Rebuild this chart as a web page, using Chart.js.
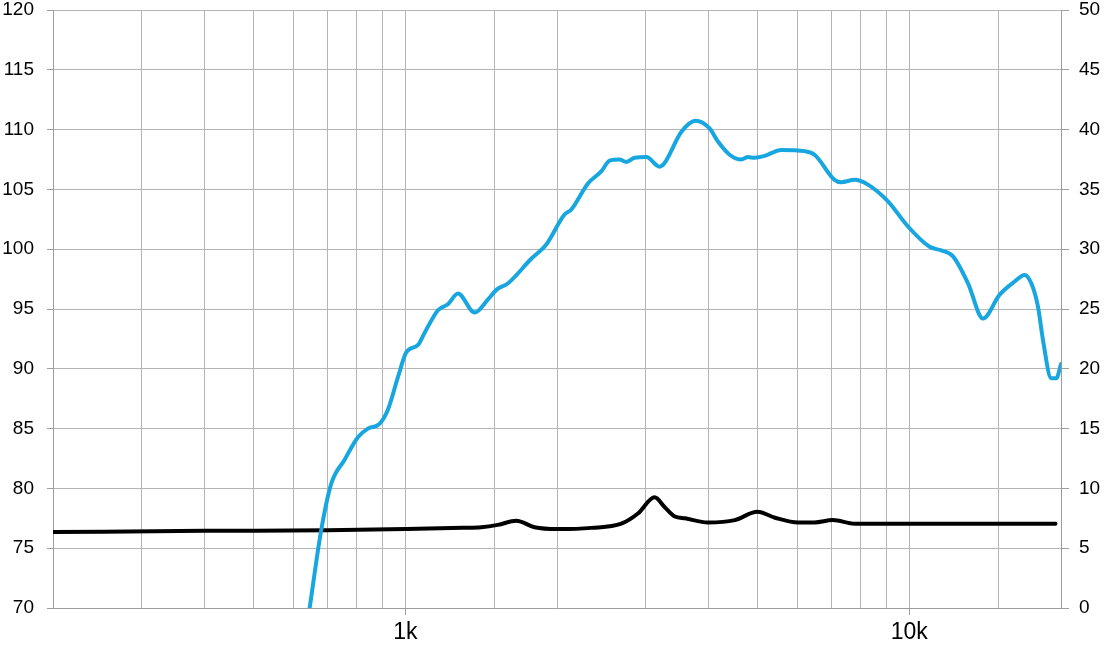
<!DOCTYPE html>
<html>
<head>
<meta charset="utf-8">
<script src="https://cdn.jsdelivr.net/npm/chart.js@4/dist/chart.umd.min.js"></script>
<style>
  html, body { margin: 0; padding: 0; background: #fff; }
  #wrap { width: 1111px; height: 645px; }
</style>
</head>
<body>
<div id="wrap"><canvas id="fr" width="1111" height="645"></canvas></div>
<script>
// SPL curve (left axis, dB)
const splFreq = [646, 681, 713, 758, 806, 843, 889, 924, 967, 1005, 1060, 1092, 1161, 1215, 1272, 1373, 1459, 1516, 1599, 1778, 1905,
  2070, 2133, 2304, 2448, 2543, 2662, 2745, 2851, 3007, 3196, 3269, 3528, 3767, 4017, 4173, 4401, 4642, 4786, 4932, 5164,
  5572, 6198, 6488, 7109, 7328, 7790, 8279, 9072, 9940, 10973, 11574, 12210, 13077, 14006, 15112, 16180, 16935, 17462,
  18003, 18420, 19130, 19574, 20000]
const splValue = [70, 76.5, 80.4, 82.4, 84.3, 85.0, 85.4, 86.6, 89.3, 91.4, 92.0, 93.0, 94.9, 95.4, 96.3, 94.7, 95.8, 96.6, 97.15, 99.2, 100.4,
  102.9, 103.3, 105.5, 106.5, 107.4, 107.5, 107.3, 107.65, 107.7, 106.9, 107.2, 109.8, 110.75, 110.1, 109.0, 107.9, 107.5, 107.7, 107.65, 107.8,
  108.3, 108.2, 107.9, 105.8, 105.6, 105.8, 105.4, 104.0, 101.9, 100.2, 99.9, 99.4, 97.15, 94.2, 96.2, 97.3, 97.85, 97.15,
  95.2, 92.4, 89.2, 89.2, 90.4]

// impedance curve (right axis, ohm)
const impFreq = [200, 400, 700, 1000, 1300, 1415, 1527, 1661, 1805, 2009, 2339, 2683, 2895, 3124, 3269, 3427, 3590, 3984,
  4508, 4994, 5415, 6019, 6488, 7053, 7790, 8838, 12000, 19500]
const impValue = [6.35, 6.45, 6.5, 6.6, 6.7, 6.75, 6.95, 7.3, 6.75, 6.6, 6.7, 7.05, 7.9, 9.25, 8.45, 7.65, 7.5, 7.15,
  7.35, 8.05, 7.55, 7.15, 7.15, 7.35, 7.05, 7.05, 7.05, 7.05]

const xLabels = { 1000: "1k", 10000: "10k" }

const gridColor = "#b5b5b5"
const axisColor = "#9d9d9d"

const toPoints = (xs, ys) => xs.map((x, i) => ({ x: x, y: ys[i] }))

new Chart(document.getElementById("fr"), {
  type: "line",
  data: {
    datasets: [
      {
        label: "SPL",
        data: toPoints(splFreq, splValue),
        yAxisID: "y",
        borderColor: "#17a6e0",
        borderWidth: 4,
        pointRadius: 0,
        cubicInterpolationMode: "monotone",
        borderCapStyle: "round",
        borderJoinStyle: "round",
      },
      {
        label: "Impedance",
        data: toPoints(impFreq, impValue),
        yAxisID: "y2",
        borderColor: "#000000",
        borderWidth: 4,
        pointRadius: 0,
        cubicInterpolationMode: "monotone",
        borderCapStyle: "round",
        borderJoinStyle: "round",
      },
    ],
  },
  options: {
    responsive: false,
    devicePixelRatio: 1,
    animation: false,
    layout: { padding: { top: 10, left: 0, right: 0, bottom: 0 } },
    plugins: { legend: { display: false }, tooltip: { enabled: false } },
    scales: {
      x: {
        type: "logarithmic",
        min: 200,
        max: 20000,
        border: { color: axisColor, width: 1 },
        grid: {
          color: gridColor,
          tickLength: 7,
          tickColor: (ctx) => (ctx.tick && xLabels[ctx.tick.value] ? axisColor : "rgba(0,0,0,0)"),
        },
        ticks: {
          autoSkip: false,
          maxRotation: 0,
          padding: 4,
          color: "#000",
          font: { family: "Liberation Sans", size: 23 },
          callback: (v) => xLabels[v] || "",
        },
        afterFit: (s) => { s.height = 37; s.paddingLeft = 0; s.paddingRight = 0 },
      },
      y: {
        position: "left",
        min: 70,
        max: 120,
        border: { color: axisColor, width: 1 },
        grid: { color: gridColor, tickLength: 6, tickColor: axisColor },
        ticks: {
          stepSize: 5,
          padding: 13,
          color: "#000",
          font: { family: "Liberation Sans", size: 19 },
        },
        afterFit: (s) => { s.width = 53; s.paddingTop = 0; s.paddingBottom = 0 },
      },
      y2: {
        position: "right",
        min: 0,
        max: 50,
        border: { color: axisColor, width: 1 },
        grid: { drawOnChartArea: false, tickLength: 8, tickColor: axisColor },
        ticks: {
          stepSize: 5,
          padding: 10,
          color: "#000",
          font: { family: "Liberation Sans", size: 19 },
        },
        afterFit: (s) => { s.width = 50; s.paddingTop = 0; s.paddingBottom = 0 },
      },
    },
  },
})
</script>
</body>
</html>
